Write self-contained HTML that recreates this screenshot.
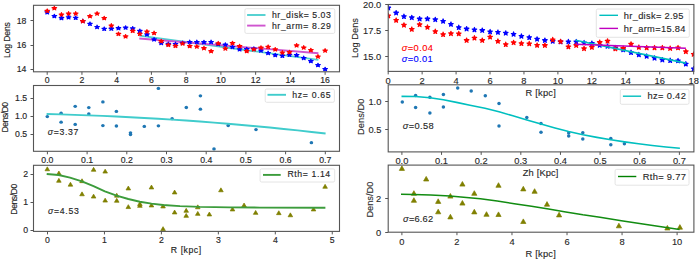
<!DOCTYPE html>
<html><head><meta charset="utf-8"><style>
html,body{margin:0;padding:0;background:#fff;width:700px;height:260px;overflow:hidden}
svg text{font-family:"Liberation Sans", sans-serif}
</style></head><body>
<svg width="700" height="260" viewBox="0 0 700 260" style="position:absolute;left:0;top:0;font-family:'Liberation Sans', sans-serif">
<rect x="0" y="0" width="700" height="260" fill="#ffffff"/>
<g>
<clipPath id="cTL"><rect x="33.5" y="5.3" width="306.0" height="66.5"/></clipPath>
<g clip-path="url(#cTL)">
<polyline points="139.30,35.60 318.40,59.90" fill="none" stroke="#4fd0d0" stroke-width="1.9" stroke-linejoin="round"/>
<polyline points="139.30,38.50 318.40,53.20" fill="none" stroke="#cf55cf" stroke-width="1.9" stroke-linejoin="round"/>
<path d="M47.20,10.42 L46.66,11.78 L44.92,11.78 L46.33,12.62 L45.79,13.98 L47.20,13.14 L48.61,13.98 L48.07,12.62 L49.48,11.78 L47.74,11.78ZM54.33,14.22 L53.79,15.58 L52.04,15.58 L53.45,16.42 L52.92,17.78 L54.33,16.94 L55.74,17.78 L55.20,16.42 L56.61,15.58 L54.86,15.58ZM61.45,16.22 L60.91,17.58 L59.17,17.58 L60.58,18.42 L60.04,19.78 L61.45,18.94 L62.86,19.78 L62.32,18.42 L63.73,17.58 L61.99,17.58ZM68.58,15.42 L68.04,16.78 L66.30,16.78 L67.71,17.62 L67.17,18.98 L68.58,18.14 L69.99,18.98 L69.45,17.62 L70.86,16.78 L69.12,16.78ZM75.70,15.92 L75.17,17.28 L73.42,17.28 L74.83,18.12 L74.29,19.48 L75.70,18.64 L77.11,19.48 L76.58,18.12 L77.99,17.28 L76.24,17.28ZM82.83,19.12 L82.29,20.48 L80.55,20.48 L81.96,21.32 L81.42,22.68 L82.83,21.84 L84.24,22.68 L83.70,21.32 L85.11,20.48 L83.37,20.48ZM89.96,21.92 L89.42,23.28 L87.67,23.28 L89.08,24.12 L88.55,25.48 L89.96,24.64 L91.37,25.48 L90.83,24.12 L92.24,23.28 L90.49,23.28ZM97.08,25.12 L96.54,26.48 L94.80,26.48 L96.21,27.32 L95.67,28.68 L97.08,27.84 L98.49,28.68 L97.95,27.32 L99.36,26.48 L97.62,26.48ZM104.21,26.92 L103.67,28.28 L101.93,28.28 L103.34,29.12 L102.80,30.48 L104.21,29.64 L105.62,30.48 L105.08,29.12 L106.49,28.28 L104.75,28.28ZM111.33,26.82 L110.80,28.18 L109.05,28.18 L110.46,29.02 L109.92,30.38 L111.33,29.54 L112.74,30.38 L112.21,29.02 L113.62,28.18 L111.87,28.18ZM118.46,26.32 L117.92,27.68 L116.18,27.68 L117.59,28.52 L117.05,29.88 L118.46,29.04 L119.87,29.88 L119.33,28.52 L120.74,27.68 L119.00,27.68ZM125.59,25.72 L125.05,27.08 L123.30,27.08 L124.71,27.92 L124.18,29.28 L125.59,28.44 L127.00,29.28 L126.46,27.92 L127.87,27.08 L126.12,27.08ZM132.71,26.52 L132.17,27.88 L130.43,27.88 L131.84,28.72 L131.30,30.08 L132.71,29.24 L134.12,30.08 L133.58,28.72 L134.99,27.88 L133.25,27.88ZM139.84,29.02 L139.30,30.38 L137.56,30.38 L138.97,31.22 L138.43,32.58 L139.84,31.74 L141.25,32.58 L140.71,31.22 L142.12,30.38 L140.38,30.38ZM146.96,32.52 L146.43,33.88 L144.68,33.88 L146.09,34.72 L145.55,36.08 L146.96,35.24 L148.37,36.08 L147.84,34.72 L149.25,33.88 L147.50,33.88ZM154.09,37.52 L153.55,38.88 L151.81,38.88 L153.22,39.72 L152.68,41.08 L154.09,40.24 L155.50,41.08 L154.96,39.72 L156.37,38.88 L154.63,38.88ZM161.22,41.12 L160.68,42.48 L158.93,42.48 L160.34,43.32 L159.81,44.68 L161.22,43.84 L162.63,44.68 L162.09,43.32 L163.50,42.48 L161.75,42.48ZM168.34,42.02 L167.80,43.38 L166.06,43.38 L167.47,44.22 L166.93,45.58 L168.34,44.74 L169.75,45.58 L169.21,44.22 L170.62,43.38 L168.88,43.38ZM175.47,42.12 L174.93,43.48 L173.19,43.48 L174.60,44.32 L174.06,45.68 L175.47,44.84 L176.88,45.68 L176.34,44.32 L177.75,43.48 L176.01,43.48ZM182.59,41.02 L182.06,42.38 L180.31,42.38 L181.72,43.22 L181.18,44.58 L182.59,43.74 L184.00,44.58 L183.47,43.22 L184.88,42.38 L183.13,42.38ZM189.72,40.12 L189.18,41.48 L187.44,41.48 L188.85,42.32 L188.31,43.68 L189.72,42.84 L191.13,43.68 L190.59,42.32 L192.00,41.48 L190.26,41.48ZM196.85,40.12 L196.31,41.48 L194.56,41.48 L195.97,42.32 L195.44,43.68 L196.85,42.84 L198.26,43.68 L197.72,42.32 L199.13,41.48 L197.38,41.48ZM203.97,40.32 L203.43,41.68 L201.69,41.68 L203.10,42.52 L202.56,43.88 L203.97,43.04 L205.38,43.88 L204.84,42.52 L206.25,41.68 L204.51,41.68ZM211.10,40.12 L210.56,41.48 L208.82,41.48 L210.23,42.32 L209.69,43.68 L211.10,42.84 L212.51,43.68 L211.97,42.32 L213.38,41.48 L211.64,41.48ZM218.22,42.22 L217.69,43.58 L215.94,43.58 L217.35,44.42 L216.81,45.78 L218.22,44.94 L219.63,45.78 L219.10,44.42 L220.51,43.58 L218.76,43.58ZM225.35,42.82 L224.81,44.18 L223.07,44.18 L224.48,45.02 L223.94,46.38 L225.35,45.54 L226.76,46.38 L226.22,45.02 L227.63,44.18 L225.89,44.18ZM232.48,45.12 L231.94,46.48 L230.19,46.48 L231.60,47.32 L231.07,48.68 L232.48,47.84 L233.89,48.68 L233.35,47.32 L234.76,46.48 L233.01,46.48ZM239.60,47.42 L239.06,48.78 L237.32,48.78 L238.73,49.62 L238.19,50.98 L239.60,50.14 L241.01,50.98 L240.47,49.62 L241.88,48.78 L240.14,48.78ZM246.73,47.22 L246.19,48.58 L244.45,48.58 L245.86,49.42 L245.32,50.78 L246.73,49.94 L248.14,50.78 L247.60,49.42 L249.01,48.58 L247.27,48.58ZM253.85,46.82 L253.32,48.18 L251.57,48.18 L252.98,49.02 L252.44,50.38 L253.85,49.54 L255.26,50.38 L254.73,49.02 L256.14,48.18 L254.39,48.18ZM260.98,48.62 L260.44,49.98 L258.70,49.98 L260.11,50.82 L259.57,52.18 L260.98,51.34 L262.39,52.18 L261.85,50.82 L263.26,49.98 L261.52,49.98ZM268.11,51.12 L267.57,52.48 L265.82,52.48 L267.23,53.32 L266.70,54.68 L268.11,53.84 L269.52,54.68 L268.98,53.32 L270.39,52.48 L268.64,52.48ZM275.23,53.22 L274.69,54.58 L272.95,54.58 L274.36,55.42 L273.82,56.78 L275.23,55.94 L276.64,56.78 L276.10,55.42 L277.51,54.58 L275.77,54.58ZM282.36,53.92 L281.82,55.28 L280.08,55.28 L281.49,56.12 L280.95,57.48 L282.36,56.64 L283.77,57.48 L283.23,56.12 L284.64,55.28 L282.90,55.28ZM289.48,52.92 L288.95,54.28 L287.20,54.28 L288.61,55.12 L288.07,56.48 L289.48,55.64 L290.89,56.48 L290.36,55.12 L291.77,54.28 L290.02,54.28ZM296.61,53.22 L296.07,54.58 L294.33,54.58 L295.74,55.42 L295.20,56.78 L296.61,55.94 L298.02,56.78 L297.48,55.42 L298.89,54.58 L297.15,54.58ZM303.74,56.12 L303.20,57.48 L301.45,57.48 L302.86,58.32 L302.33,59.68 L303.74,58.84 L305.15,59.68 L304.61,58.32 L306.02,57.48 L304.27,57.48ZM310.86,59.22 L310.32,60.58 L308.58,60.58 L309.99,61.42 L309.45,62.78 L310.86,61.94 L312.27,62.78 L311.73,61.42 L313.14,60.58 L311.40,60.58ZM317.99,63.22 L317.45,64.58 L315.71,64.58 L317.12,65.42 L316.58,66.78 L317.99,65.94 L319.40,66.78 L318.86,65.42 L320.27,64.58 L318.53,64.58ZM325.11,67.22 L324.58,68.58 L322.83,68.58 L324.24,69.42 L323.70,70.78 L325.11,69.94 L326.52,70.78 L325.99,69.42 L327.40,68.58 L325.65,68.58Z" fill="#0000ff" stroke="#0000ff" stroke-width="1.15" stroke-linejoin="round"/>
<path d="M47.20,8.92 L46.66,10.28 L44.92,10.28 L46.33,11.12 L45.79,12.48 L47.20,11.64 L48.61,12.48 L48.07,11.12 L49.48,10.28 L47.74,10.28ZM54.33,6.32 L53.79,7.68 L52.04,7.68 L53.45,8.52 L52.92,9.88 L54.33,9.04 L55.74,9.88 L55.20,8.52 L56.61,7.68 L54.86,7.68ZM61.45,12.62 L60.91,13.98 L59.17,13.98 L60.58,14.82 L60.04,16.18 L61.45,15.34 L62.86,16.18 L62.32,14.82 L63.73,13.98 L61.99,13.98ZM68.58,11.62 L68.04,12.98 L66.30,12.98 L67.71,13.82 L67.17,15.18 L68.58,14.34 L69.99,15.18 L69.45,13.82 L70.86,12.98 L69.12,12.98ZM75.70,11.62 L75.17,12.98 L73.42,12.98 L74.83,13.82 L74.29,15.18 L75.70,14.34 L77.11,15.18 L76.58,13.82 L77.99,12.98 L76.24,12.98ZM82.83,19.32 L82.29,20.68 L80.55,20.68 L81.96,21.52 L81.42,22.88 L82.83,22.04 L84.24,22.88 L83.70,21.52 L85.11,20.68 L83.37,20.68ZM89.96,14.32 L89.42,15.68 L87.67,15.68 L89.08,16.52 L88.55,17.88 L89.96,17.04 L91.37,17.88 L90.83,16.52 L92.24,15.68 L90.49,15.68ZM97.08,11.62 L96.54,12.98 L94.80,12.98 L96.21,13.82 L95.67,15.18 L97.08,14.34 L98.49,15.18 L97.95,13.82 L99.36,12.98 L97.62,12.98ZM104.21,16.22 L103.67,17.58 L101.93,17.58 L103.34,18.42 L102.80,19.78 L104.21,18.94 L105.62,19.78 L105.08,18.42 L106.49,17.58 L104.75,17.58ZM111.33,23.62 L110.80,24.98 L109.05,24.98 L110.46,25.82 L109.92,27.18 L111.33,26.34 L112.74,27.18 L112.21,25.82 L113.62,24.98 L111.87,24.98ZM118.46,32.02 L117.92,33.38 L116.18,33.38 L117.59,34.22 L117.05,35.58 L118.46,34.74 L119.87,35.58 L119.33,34.22 L120.74,33.38 L119.00,33.38ZM125.59,34.52 L125.05,35.88 L123.30,35.88 L124.71,36.72 L124.18,38.08 L125.59,37.24 L127.00,38.08 L126.46,36.72 L127.87,35.88 L126.12,35.88ZM132.71,29.02 L132.17,30.38 L130.43,30.38 L131.84,31.22 L131.30,32.58 L132.71,31.74 L134.12,32.58 L133.58,31.22 L134.99,30.38 L133.25,30.38ZM139.84,31.92 L139.30,33.28 L137.56,33.28 L138.97,34.12 L138.43,35.48 L139.84,34.64 L141.25,35.48 L140.71,34.12 L142.12,33.28 L140.38,33.28ZM146.96,29.62 L146.43,30.98 L144.68,30.98 L146.09,31.82 L145.55,33.18 L146.96,32.34 L148.37,33.18 L147.84,31.82 L149.25,30.98 L147.50,30.98ZM154.09,31.12 L153.55,32.48 L151.81,32.48 L153.22,33.32 L152.68,34.68 L154.09,33.84 L155.50,34.68 L154.96,33.32 L156.37,32.48 L154.63,32.48ZM161.22,39.32 L160.68,40.68 L158.93,40.68 L160.34,41.52 L159.81,42.88 L161.22,42.04 L162.63,42.88 L162.09,41.52 L163.50,40.68 L161.75,40.68ZM168.34,43.02 L167.80,44.38 L166.06,44.38 L167.47,45.22 L166.93,46.58 L168.34,45.74 L169.75,46.58 L169.21,45.22 L170.62,44.38 L168.88,44.38ZM175.47,44.02 L174.93,45.38 L173.19,45.38 L174.60,46.22 L174.06,47.58 L175.47,46.74 L176.88,47.58 L176.34,46.22 L177.75,45.38 L176.01,45.38ZM182.59,41.62 L182.06,42.98 L180.31,42.98 L181.72,43.82 L181.18,45.18 L182.59,44.34 L184.00,45.18 L183.47,43.82 L184.88,42.98 L183.13,42.98ZM189.72,44.22 L189.18,45.58 L187.44,45.58 L188.85,46.42 L188.31,47.78 L189.72,46.94 L191.13,47.78 L190.59,46.42 L192.00,45.58 L190.26,45.58ZM196.85,44.62 L196.31,45.98 L194.56,45.98 L195.97,46.82 L195.44,48.18 L196.85,47.34 L198.26,48.18 L197.72,46.82 L199.13,45.98 L197.38,45.98ZM203.97,46.32 L203.43,47.68 L201.69,47.68 L203.10,48.52 L202.56,49.88 L203.97,49.04 L205.38,49.88 L204.84,48.52 L206.25,47.68 L204.51,47.68ZM211.10,49.32 L210.56,50.68 L208.82,50.68 L210.23,51.52 L209.69,52.88 L211.10,52.04 L212.51,52.88 L211.97,51.52 L213.38,50.68 L211.64,50.68ZM218.22,41.42 L217.69,42.78 L215.94,42.78 L217.35,43.62 L216.81,44.98 L218.22,44.14 L219.63,44.98 L219.10,43.62 L220.51,42.78 L218.76,42.78ZM225.35,46.62 L224.81,47.98 L223.07,47.98 L224.48,48.82 L223.94,50.18 L225.35,49.34 L226.76,50.18 L226.22,48.82 L227.63,47.98 L225.89,47.98ZM232.48,41.22 L231.94,42.58 L230.19,42.58 L231.60,43.42 L231.07,44.78 L232.48,43.94 L233.89,44.78 L233.35,43.42 L234.76,42.58 L233.01,42.58ZM239.60,44.32 L239.06,45.68 L237.32,45.68 L238.73,46.52 L238.19,47.88 L239.60,47.04 L241.01,47.88 L240.47,46.52 L241.88,45.68 L240.14,45.68ZM246.73,49.22 L246.19,50.58 L244.45,50.58 L245.86,51.42 L245.32,52.78 L246.73,51.94 L248.14,52.78 L247.60,51.42 L249.01,50.58 L247.27,50.58ZM253.85,47.52 L253.32,48.88 L251.57,48.88 L252.98,49.72 L252.44,51.08 L253.85,50.24 L255.26,51.08 L254.73,49.72 L256.14,48.88 L254.39,48.88ZM260.98,45.82 L260.44,47.18 L258.70,47.18 L260.11,48.02 L259.57,49.38 L260.98,48.54 L262.39,49.38 L261.85,48.02 L263.26,47.18 L261.52,47.18ZM268.11,44.92 L267.57,46.28 L265.82,46.28 L267.23,47.12 L266.70,48.48 L268.11,47.64 L269.52,48.48 L268.98,47.12 L270.39,46.28 L268.64,46.28ZM275.23,47.52 L274.69,48.88 L272.95,48.88 L274.36,49.72 L273.82,51.08 L275.23,50.24 L276.64,51.08 L276.10,49.72 L277.51,48.88 L275.77,48.88ZM282.36,50.62 L281.82,51.98 L280.08,51.98 L281.49,52.82 L280.95,54.18 L282.36,53.34 L283.77,54.18 L283.23,52.82 L284.64,51.98 L282.90,51.98ZM289.48,50.32 L288.95,51.68 L287.20,51.68 L288.61,52.52 L288.07,53.88 L289.48,53.04 L290.89,53.88 L290.36,52.52 L291.77,51.68 L290.02,51.68ZM296.61,43.52 L296.07,44.88 L294.33,44.88 L295.74,45.72 L295.20,47.08 L296.61,46.24 L298.02,47.08 L297.48,45.72 L298.89,44.88 L297.15,44.88ZM303.74,45.62 L303.20,46.98 L301.45,46.98 L302.86,47.82 L302.33,49.18 L303.74,48.34 L305.15,49.18 L304.61,47.82 L306.02,46.98 L304.27,46.98ZM310.86,48.22 L310.32,49.58 L308.58,49.58 L309.99,50.42 L309.45,51.78 L310.86,50.94 L312.27,51.78 L311.73,50.42 L313.14,49.58 L311.40,49.58ZM317.99,54.62 L317.45,55.98 L315.71,55.98 L317.12,56.82 L316.58,58.18 L317.99,57.34 L319.40,58.18 L318.86,56.82 L320.27,55.98 L318.53,55.98ZM325.11,48.62 L324.58,49.98 L322.83,49.98 L324.24,50.82 L323.70,52.18 L325.11,51.34 L326.52,52.18 L325.99,50.82 L327.40,49.98 L325.65,49.98Z" fill="#ff0000" stroke="#ff0000" stroke-width="1.15" stroke-linejoin="round"/>
</g>
<rect x="33.50" y="5.30" width="306.00" height="66.50" fill="none" stroke="#555555" stroke-width="1.1"/>
<path d="M47.20,71.80v3.0M81.94,71.80v3.0M116.68,71.80v3.0M151.42,71.80v3.0M186.16,71.80v3.0M220.90,71.80v3.0M255.64,71.80v3.0M290.38,71.80v3.0M325.12,71.80v3.0" stroke="#555555" stroke-width="1.0"/>
<path d="M33.50,69.50h-3.0M33.50,45.50h-3.0M33.50,20.50h-3.0" stroke="#555555" stroke-width="1.0"/>
<text x="47.20" y="82.60" font-size="8.7" fill="#262626" stroke="#262626" stroke-width="0.15" text-anchor="middle" >0</text>
<text x="81.94" y="82.60" font-size="8.7" fill="#262626" stroke="#262626" stroke-width="0.15" text-anchor="middle" >2</text>
<text x="116.68" y="82.60" font-size="8.7" fill="#262626" stroke="#262626" stroke-width="0.15" text-anchor="middle" >4</text>
<text x="151.42" y="82.60" font-size="8.7" fill="#262626" stroke="#262626" stroke-width="0.15" text-anchor="middle" >6</text>
<text x="186.16" y="82.60" font-size="8.7" fill="#262626" stroke="#262626" stroke-width="0.15" text-anchor="middle" >8</text>
<text x="220.90" y="82.60" font-size="8.7" fill="#262626" stroke="#262626" stroke-width="0.15" text-anchor="middle" >10</text>
<text x="255.64" y="82.60" font-size="8.7" fill="#262626" stroke="#262626" stroke-width="0.15" text-anchor="middle" >12</text>
<text x="290.38" y="82.60" font-size="8.7" fill="#262626" stroke="#262626" stroke-width="0.15" text-anchor="middle" >14</text>
<text x="325.12" y="82.60" font-size="8.7" fill="#262626" stroke="#262626" stroke-width="0.15" text-anchor="middle" >16</text>
<text x="26.30" y="72.20" font-size="8.7" fill="#262626" stroke="#262626" stroke-width="0.15" text-anchor="end" >14</text>
<text x="26.30" y="47.94" font-size="8.7" fill="#262626" stroke="#262626" stroke-width="0.15" text-anchor="end" >16</text>
<text x="26.30" y="23.68" font-size="8.7" fill="#262626" stroke="#262626" stroke-width="0.15" text-anchor="end" >18</text>
<text x="10.40" y="40.00" font-size="8.7" fill="#262626" stroke="#262626" stroke-width="0.15" text-anchor="middle" textLength="35.80" lengthAdjust="spacing" transform="rotate(-90 10.40 40.00)" >Log Dens</text>
<rect x="244.90" y="8.70" width="89.90" height="24.70" rx="1.5" fill="#ffffff" fill-opacity="0.8" stroke="#dddddd" stroke-width="0.8"/>
<path d="M247.1,15.0H265.5" stroke="#4fd0d0" stroke-width="1.9"/>
<path d="M247.1,25.6H265.5" stroke="#cf55cf" stroke-width="1.9"/>
<text x="271.90" y="18.10" font-size="8.7" fill="#262626" stroke="#262626" stroke-width="0.15" text-anchor="start" textLength="58.90" lengthAdjust="spacing" >hr_disk= 5.03</text>
<text x="271.90" y="28.70" font-size="8.7" fill="#262626" stroke="#262626" stroke-width="0.15" text-anchor="start" textLength="58.90" lengthAdjust="spacing" >hr_arm= 8.29</text>
</g>
<clipPath id="cML"><rect x="33.5" y="85.5" width="306.0" height="65.80000000000001"/></clipPath>
<g clip-path="url(#cML)">
<ellipse cx="47.30" cy="116.60" rx="1.8" ry="1.65" fill="#1f77b4"/>
<ellipse cx="61.10" cy="113.20" rx="1.8" ry="1.65" fill="#1f77b4"/>
<ellipse cx="61.10" cy="122.20" rx="1.8" ry="1.65" fill="#1f77b4"/>
<ellipse cx="75.20" cy="106.30" rx="1.8" ry="1.65" fill="#1f77b4"/>
<ellipse cx="75.20" cy="124.40" rx="1.8" ry="1.65" fill="#1f77b4"/>
<ellipse cx="88.80" cy="107.60" rx="1.8" ry="1.65" fill="#1f77b4"/>
<ellipse cx="88.80" cy="114.00" rx="1.8" ry="1.65" fill="#1f77b4"/>
<ellipse cx="102.90" cy="101.90" rx="1.8" ry="1.65" fill="#1f77b4"/>
<ellipse cx="102.90" cy="125.60" rx="1.8" ry="1.65" fill="#1f77b4"/>
<ellipse cx="116.40" cy="111.40" rx="1.8" ry="1.65" fill="#1f77b4"/>
<ellipse cx="116.40" cy="126.00" rx="1.8" ry="1.65" fill="#1f77b4"/>
<ellipse cx="130.50" cy="132.80" rx="1.8" ry="1.65" fill="#1f77b4"/>
<ellipse cx="130.50" cy="134.60" rx="1.8" ry="1.65" fill="#1f77b4"/>
<ellipse cx="144.30" cy="126.40" rx="1.8" ry="1.65" fill="#1f77b4"/>
<ellipse cx="158.40" cy="88.40" rx="1.8" ry="1.65" fill="#1f77b4"/>
<ellipse cx="158.40" cy="125.80" rx="1.8" ry="1.65" fill="#1f77b4"/>
<ellipse cx="172.10" cy="118.70" rx="1.8" ry="1.65" fill="#1f77b4"/>
<ellipse cx="186.30" cy="107.50" rx="1.8" ry="1.65" fill="#1f77b4"/>
<ellipse cx="200.40" cy="95.80" rx="1.8" ry="1.65" fill="#1f77b4"/>
<ellipse cx="200.40" cy="109.20" rx="1.8" ry="1.65" fill="#1f77b4"/>
<ellipse cx="214.00" cy="148.90" rx="1.8" ry="1.65" fill="#1f77b4"/>
<ellipse cx="228.20" cy="125.50" rx="1.8" ry="1.65" fill="#1f77b4"/>
<ellipse cx="256.00" cy="129.60" rx="1.8" ry="1.65" fill="#1f77b4"/>
<ellipse cx="311.40" cy="142.70" rx="1.8" ry="1.65" fill="#1f77b4"/>
<polyline points="46.60,114.05 60.55,114.41 74.50,114.84 88.45,115.33 102.40,115.88 116.35,116.50 130.30,117.18 144.25,117.93 158.20,118.74 172.15,119.62 186.10,120.56 200.05,121.57 214.00,122.64 227.95,123.78 241.90,124.98 255.85,126.24 269.80,127.57 283.75,128.97 297.70,130.43 311.65,131.95 325.60,133.54" fill="none" stroke="#40cccc" stroke-width="1.9" stroke-linejoin="round"/>
</g>
<rect x="33.50" y="85.50" width="306.00" height="65.80" fill="none" stroke="#555555" stroke-width="1.1"/>
<path d="M47.40,151.30v3.0M87.10,151.30v3.0M126.80,151.30v3.0M166.50,151.30v3.0M206.20,151.30v3.0M245.90,151.30v3.0M285.60,151.30v3.0M325.30,151.30v3.0" stroke="#555555" stroke-width="1.0"/>
<path d="M33.50,134.50h-3.0M33.50,116.50h-3.0M33.50,98.50h-3.0" stroke="#555555" stroke-width="1.0"/>
<text x="47.40" y="163.00" font-size="8.7" fill="#262626" stroke="#262626" stroke-width="0.15" text-anchor="middle" >0.0</text>
<text x="87.10" y="163.00" font-size="8.7" fill="#262626" stroke="#262626" stroke-width="0.15" text-anchor="middle" >0.1</text>
<text x="126.80" y="163.00" font-size="8.7" fill="#262626" stroke="#262626" stroke-width="0.15" text-anchor="middle" >0.2</text>
<text x="166.50" y="163.00" font-size="8.7" fill="#262626" stroke="#262626" stroke-width="0.15" text-anchor="middle" >0.3</text>
<text x="206.20" y="163.00" font-size="8.7" fill="#262626" stroke="#262626" stroke-width="0.15" text-anchor="middle" >0.4</text>
<text x="245.90" y="163.00" font-size="8.7" fill="#262626" stroke="#262626" stroke-width="0.15" text-anchor="middle" >0.5</text>
<text x="285.60" y="163.00" font-size="8.7" fill="#262626" stroke="#262626" stroke-width="0.15" text-anchor="middle" >0.6</text>
<text x="325.30" y="163.00" font-size="8.7" fill="#262626" stroke="#262626" stroke-width="0.15" text-anchor="middle" >0.7</text>
<text x="27.20" y="137.15" font-size="8.7" fill="#262626" stroke="#262626" stroke-width="0.15" text-anchor="end" >0.5</text>
<text x="27.20" y="119.10" font-size="8.7" fill="#262626" stroke="#262626" stroke-width="0.15" text-anchor="end" >1.0</text>
<text x="27.20" y="101.05" font-size="8.7" fill="#262626" stroke="#262626" stroke-width="0.15" text-anchor="end" >1.5</text>
<text x="7.90" y="117.10" font-size="8.7" fill="#262626" stroke="#262626" stroke-width="0.15" text-anchor="middle" textLength="30.60" lengthAdjust="spacing" transform="rotate(-90 7.90 117.10)" >Dens/D0</text>
<rect x="265.20" y="89.00" width="69.20" height="13.30" rx="1.5" fill="#ffffff" fill-opacity="0.8" stroke="#dddddd" stroke-width="0.8"/>
<path d="M267.5,94.8H286" stroke="#40cccc" stroke-width="1.9"/>
<text x="292.30" y="97.70" font-size="8.7" fill="#262626" stroke="#262626" stroke-width="0.15" text-anchor="start" textLength="38.30" lengthAdjust="spacing" >hz= 0.65</text>
<text x="47.80" y="134.80" font-size="8.7" fill="#262626" stroke="#262626" stroke-width="0.15" text-anchor="start" textLength="30.60" lengthAdjust="spacing" ><tspan font-style="italic">σ</tspan>=3.37</text>
<clipPath id="cBL"><rect x="33.5" y="165.3" width="306.0" height="66.1"/></clipPath>
<g clip-path="url(#cBL)">
<path d="M47.30,166.85 L45.00,170.75 L49.60,170.75ZM58.88,171.05 L56.58,174.95 L61.17,174.95ZM58.88,178.35 L56.58,182.25 L61.17,182.25ZM70.45,182.25 L68.15,186.15 L72.75,186.15ZM82.02,178.75 L79.72,182.65 L84.32,182.65ZM82.02,191.85 L79.72,195.75 L84.32,195.75ZM93.60,167.35 L91.30,171.25 L95.90,171.25ZM93.60,194.15 L91.30,198.05 L95.90,198.05ZM105.17,169.15 L102.88,173.05 L107.47,173.05ZM105.17,198.15 L102.88,202.05 L107.47,202.05ZM116.75,193.25 L114.45,197.15 L119.05,197.15ZM116.75,198.35 L114.45,202.25 L119.05,202.25ZM128.32,186.05 L126.02,189.95 L130.62,189.95ZM128.32,204.65 L126.02,208.55 L130.62,208.55ZM139.90,201.65 L137.60,205.55 L142.20,205.55ZM139.90,203.45 L137.60,207.35 L142.20,207.35ZM151.47,185.05 L149.17,188.95 L153.78,188.95ZM151.47,203.05 L149.17,206.95 L153.78,206.95ZM163.05,204.05 L160.75,207.95 L165.35,207.95ZM163.05,226.65 L160.75,230.55 L165.35,230.55ZM174.62,190.05 L172.32,193.95 L176.93,193.95ZM174.62,210.05 L172.32,213.95 L176.93,213.95ZM186.20,208.35 L183.90,212.25 L188.50,212.25ZM186.20,213.45 L183.90,217.35 L188.50,217.35ZM197.77,204.85 L195.47,208.75 L200.07,208.75ZM197.77,211.45 L195.47,215.35 L200.07,215.35ZM209.35,212.05 L207.05,215.95 L211.65,215.95ZM220.93,187.85 L218.62,191.75 L223.23,191.75ZM232.50,207.05 L230.20,210.95 L234.80,210.95ZM244.07,203.05 L241.77,206.95 L246.38,206.95ZM255.65,210.45 L253.35,214.35 L257.95,214.35ZM278.80,210.75 L276.50,214.65 L281.10,214.65ZM290.38,212.85 L288.07,216.75 L292.68,216.75ZM313.52,207.05 L311.22,210.95 L315.82,210.95ZM325.10,184.35 L322.80,188.25 L327.40,188.25Z" fill="#808000" stroke="#808000" stroke-width="0.7" stroke-linejoin="round"/>
<polyline points="46.70,174.00 58.60,175.00 70.00,177.60 81.90,181.40 93.50,186.20 104.90,191.30 116.60,195.60 128.30,199.00 139.90,201.70 151.50,203.60 163.00,205.00 180.00,206.10 200.00,206.90 230.00,207.40 260.00,207.60 325.40,207.80" fill="none" stroke="#3c9c3c" stroke-width="1.9" stroke-linejoin="round"/>
</g>
<rect x="33.50" y="165.30" width="306.00" height="66.10" fill="none" stroke="#555555" stroke-width="1.1"/>
<path d="M47.50,231.40v3.0M104.45,231.40v3.0M161.40,231.40v3.0M218.35,231.40v3.0M275.30,231.40v3.0M332.25,231.40v3.0" stroke="#555555" stroke-width="1.0"/>
<path d="M33.50,230.50h-3.0M33.50,202.50h-3.0M33.50,174.50h-3.0" stroke="#555555" stroke-width="1.0"/>
<text x="47.50" y="243.00" font-size="8.7" fill="#262626" stroke="#262626" stroke-width="0.15" text-anchor="middle" >0</text>
<text x="104.45" y="243.00" font-size="8.7" fill="#262626" stroke="#262626" stroke-width="0.15" text-anchor="middle" >1</text>
<text x="161.40" y="243.00" font-size="8.7" fill="#262626" stroke="#262626" stroke-width="0.15" text-anchor="middle" >2</text>
<text x="218.35" y="243.00" font-size="8.7" fill="#262626" stroke="#262626" stroke-width="0.15" text-anchor="middle" >3</text>
<text x="275.30" y="243.00" font-size="8.7" fill="#262626" stroke="#262626" stroke-width="0.15" text-anchor="middle" >4</text>
<text x="332.25" y="243.00" font-size="8.7" fill="#262626" stroke="#262626" stroke-width="0.15" text-anchor="middle" >5</text>
<text x="28.00" y="233.10" font-size="8.7" fill="#262626" stroke="#262626" stroke-width="0.15" text-anchor="end" >0</text>
<text x="28.00" y="205.15" font-size="8.7" fill="#262626" stroke="#262626" stroke-width="0.15" text-anchor="end" >1</text>
<text x="28.00" y="177.20" font-size="8.7" fill="#262626" stroke="#262626" stroke-width="0.15" text-anchor="end" >2</text>
<text x="17.00" y="199.20" font-size="8.7" fill="#262626" stroke="#262626" stroke-width="0.15" text-anchor="middle" textLength="30.90" lengthAdjust="spacing" transform="rotate(-90 17.00 199.20)" >Dens/D0</text>
<text x="186.00" y="252.70" font-size="8.7" fill="#262626" stroke="#262626" stroke-width="0.15" text-anchor="middle" textLength="30.30" lengthAdjust="spacing" >R [kpc]</text>
<rect x="260.10" y="168.90" width="74.60" height="13.10" rx="1.5" fill="#ffffff" fill-opacity="0.8" stroke="#dddddd" stroke-width="0.8"/>
<path d="M263,174.9H280.7" stroke="#3c9c3c" stroke-width="1.9"/>
<text x="287.40" y="177.10" font-size="8.7" fill="#262626" stroke="#262626" stroke-width="0.15" text-anchor="start" textLength="42.80" lengthAdjust="spacing" >Rth= 1.14</text>
<text x="47.90" y="213.70" font-size="8.7" fill="#262626" stroke="#262626" stroke-width="0.15" text-anchor="start" textLength="31.00" lengthAdjust="spacing" ><tspan font-style="italic">σ</tspan>=4.53</text>
<clipPath id="cTR"><rect x="388.2" y="4.5" width="305.7" height="66.9"/></clipPath>
<g clip-path="url(#cTR)">
<path d="M388.30,5.53 L387.76,7.19 L386.02,7.19 L387.43,8.21 L386.89,9.87 L388.30,8.84 L389.71,9.87 L389.17,8.21 L390.58,7.19 L388.84,7.19ZM396.13,10.53 L395.59,12.19 L393.85,12.19 L395.26,13.21 L394.72,14.87 L396.13,13.84 L397.54,14.87 L397.00,13.21 L398.41,12.19 L396.67,12.19ZM403.96,14.13 L403.42,15.79 L401.68,15.79 L403.09,16.81 L402.55,18.47 L403.96,17.44 L405.37,18.47 L404.83,16.81 L406.24,15.79 L404.50,15.79ZM411.79,15.23 L411.25,16.89 L409.51,16.89 L410.92,17.91 L410.38,19.57 L411.79,18.54 L413.20,19.57 L412.66,17.91 L414.07,16.89 L412.33,16.89ZM419.62,16.53 L419.08,18.19 L417.34,18.19 L418.75,19.21 L418.21,20.87 L419.62,19.84 L421.03,20.87 L420.49,19.21 L421.90,18.19 L420.16,18.19ZM427.45,16.53 L426.91,18.19 L425.17,18.19 L426.58,19.21 L426.04,20.87 L427.45,19.84 L428.86,20.87 L428.32,19.21 L429.73,18.19 L427.99,18.19ZM435.28,17.23 L434.74,18.89 L433.00,18.89 L434.41,19.91 L433.87,21.57 L435.28,20.54 L436.69,21.57 L436.15,19.91 L437.56,18.89 L435.82,18.89ZM443.11,18.83 L442.57,20.49 L440.83,20.49 L442.24,21.51 L441.70,23.17 L443.11,22.14 L444.52,23.17 L443.98,21.51 L445.39,20.49 L443.65,20.49ZM450.94,21.93 L450.40,23.59 L448.66,23.59 L450.07,24.61 L449.53,26.27 L450.94,25.24 L452.35,26.27 L451.81,24.61 L453.22,23.59 L451.48,23.59ZM458.77,25.13 L458.23,26.79 L456.49,26.79 L457.90,27.81 L457.36,29.47 L458.77,28.44 L460.18,29.47 L459.64,27.81 L461.05,26.79 L459.31,26.79ZM466.60,26.53 L466.06,28.19 L464.32,28.19 L465.73,29.21 L465.19,30.87 L466.60,29.84 L468.01,30.87 L467.47,29.21 L468.88,28.19 L467.14,28.19ZM474.43,27.43 L473.89,29.09 L472.15,29.09 L473.56,30.11 L473.02,31.77 L474.43,30.74 L475.84,31.77 L475.30,30.11 L476.71,29.09 L474.97,29.09ZM482.26,28.03 L481.72,29.69 L479.98,29.69 L481.39,30.71 L480.85,32.37 L482.26,31.34 L483.67,32.37 L483.13,30.71 L484.54,29.69 L482.80,29.69ZM490.09,29.43 L489.55,31.09 L487.81,31.09 L489.22,32.11 L488.68,33.77 L490.09,32.74 L491.50,33.77 L490.96,32.11 L492.37,31.09 L490.63,31.09ZM497.92,29.93 L497.38,31.59 L495.64,31.59 L497.05,32.61 L496.51,34.27 L497.92,33.24 L499.33,34.27 L498.79,32.61 L500.20,31.59 L498.46,31.59ZM505.75,30.73 L505.21,32.39 L503.47,32.39 L504.88,33.41 L504.34,35.07 L505.75,34.04 L507.16,35.07 L506.62,33.41 L508.03,32.39 L506.29,32.39ZM513.58,31.83 L513.04,33.49 L511.30,33.49 L512.71,34.51 L512.17,36.17 L513.58,35.14 L514.99,36.17 L514.45,34.51 L515.86,33.49 L514.12,33.49ZM521.41,33.83 L520.87,35.49 L519.13,35.49 L520.54,36.51 L520.00,38.17 L521.41,37.14 L522.82,38.17 L522.28,36.51 L523.69,35.49 L521.95,35.49ZM529.24,35.13 L528.70,36.79 L526.96,36.79 L528.37,37.81 L527.83,39.47 L529.24,38.44 L530.65,39.47 L530.11,37.81 L531.52,36.79 L529.78,36.79ZM537.07,36.73 L536.53,38.39 L534.79,38.39 L536.20,39.41 L535.66,41.07 L537.07,40.04 L538.48,41.07 L537.94,39.41 L539.35,38.39 L537.61,38.39ZM544.90,38.03 L544.36,39.69 L542.62,39.69 L544.03,40.71 L543.49,42.37 L544.90,41.34 L546.31,42.37 L545.77,40.71 L547.18,39.69 L545.44,39.69ZM552.73,38.83 L552.19,40.49 L550.45,40.49 L551.86,41.51 L551.32,43.17 L552.73,42.14 L554.14,43.17 L553.60,41.51 L555.01,40.49 L553.27,40.49ZM560.56,39.43 L560.02,41.09 L558.28,41.09 L559.69,42.11 L559.15,43.77 L560.56,42.74 L561.97,43.77 L561.43,42.11 L562.84,41.09 L561.10,41.09ZM568.39,39.33 L567.85,40.99 L566.11,40.99 L567.52,42.01 L566.98,43.67 L568.39,42.64 L569.80,43.67 L569.26,42.01 L570.67,40.99 L568.93,40.99ZM576.22,39.43 L575.68,41.09 L573.94,41.09 L575.35,42.11 L574.81,43.77 L576.22,42.74 L577.63,43.77 L577.09,42.11 L578.50,41.09 L576.76,41.09ZM584.05,40.43 L583.51,42.09 L581.77,42.09 L583.18,43.11 L582.64,44.77 L584.05,43.74 L585.46,44.77 L584.92,43.11 L586.33,42.09 L584.59,42.09ZM591.88,41.03 L591.34,42.69 L589.60,42.69 L591.01,43.71 L590.47,45.37 L591.88,44.34 L593.29,45.37 L592.75,43.71 L594.16,42.69 L592.42,42.69ZM599.71,42.83 L599.17,44.49 L597.43,44.49 L598.84,45.51 L598.30,47.17 L599.71,46.14 L601.12,47.17 L600.58,45.51 L601.99,44.49 L600.25,44.49ZM607.54,43.83 L607.00,45.49 L605.26,45.49 L606.67,46.51 L606.13,48.17 L607.54,47.14 L608.95,48.17 L608.41,46.51 L609.82,45.49 L608.08,45.49ZM615.37,45.43 L614.83,47.09 L613.09,47.09 L614.50,48.11 L613.96,49.77 L615.37,48.74 L616.78,49.77 L616.24,48.11 L617.65,47.09 L615.91,47.09ZM623.20,47.33 L622.66,48.99 L620.92,48.99 L622.33,50.01 L621.79,51.67 L623.20,50.64 L624.61,51.67 L624.07,50.01 L625.48,48.99 L623.74,48.99ZM631.03,50.13 L630.49,51.79 L628.75,51.79 L630.16,52.81 L629.62,54.47 L631.03,53.44 L632.44,54.47 L631.90,52.81 L633.31,51.79 L631.57,51.79ZM638.86,52.33 L638.32,53.99 L636.58,53.99 L637.99,55.01 L637.45,56.67 L638.86,55.64 L640.27,56.67 L639.73,55.01 L641.14,53.99 L639.40,53.99ZM646.69,53.83 L646.15,55.49 L644.41,55.49 L645.82,56.51 L645.28,58.17 L646.69,57.14 L648.10,58.17 L647.56,56.51 L648.97,55.49 L647.23,55.49ZM654.52,55.73 L653.98,57.39 L652.24,57.39 L653.65,58.41 L653.11,60.07 L654.52,59.04 L655.93,60.07 L655.39,58.41 L656.80,57.39 L655.06,57.39ZM662.35,57.53 L661.81,59.19 L660.07,59.19 L661.48,60.21 L660.94,61.87 L662.35,60.84 L663.76,61.87 L663.22,60.21 L664.63,59.19 L662.89,59.19ZM670.18,58.13 L669.64,59.79 L667.90,59.79 L669.31,60.81 L668.77,62.47 L670.18,61.44 L671.59,62.47 L671.05,60.81 L672.46,59.79 L670.72,59.79ZM678.01,58.43 L677.47,60.09 L675.73,60.09 L677.14,61.11 L676.60,62.77 L678.01,61.74 L679.42,62.77 L678.88,61.11 L680.29,60.09 L678.55,60.09ZM685.84,61.63 L685.30,63.29 L683.56,63.29 L684.97,64.31 L684.43,65.97 L685.84,64.94 L687.25,65.97 L686.71,64.31 L688.12,63.29 L686.38,63.29ZM693.67,66.43 L693.13,68.09 L691.39,68.09 L692.80,69.11 L692.26,70.77 L693.67,69.74 L695.08,70.77 L694.54,69.11 L695.95,68.09 L694.21,68.09Z" fill="#0000ff" stroke="#0000ff" stroke-width="1.15" stroke-linejoin="round"/>
<path d="M388.30,13.43 L387.76,15.09 L386.02,15.09 L387.43,16.11 L386.89,17.77 L388.30,16.74 L389.71,17.77 L389.17,16.11 L390.58,15.09 L388.84,15.09ZM396.13,17.93 L395.59,19.59 L393.85,19.59 L395.26,20.61 L394.72,22.27 L396.13,21.24 L397.54,22.27 L397.00,20.61 L398.41,19.59 L396.67,19.59ZM403.96,22.73 L403.42,24.39 L401.68,24.39 L403.09,25.41 L402.55,27.07 L403.96,26.04 L405.37,27.07 L404.83,25.41 L406.24,24.39 L404.50,24.39ZM411.79,26.93 L411.25,28.59 L409.51,28.59 L410.92,29.61 L410.38,31.27 L411.79,30.24 L413.20,31.27 L412.66,29.61 L414.07,28.59 L412.33,28.59ZM419.62,22.23 L419.08,23.89 L417.34,23.89 L418.75,24.91 L418.21,26.57 L419.62,25.54 L421.03,26.57 L420.49,24.91 L421.90,23.89 L420.16,23.89ZM427.45,24.83 L426.91,26.49 L425.17,26.49 L426.58,27.51 L426.04,29.17 L427.45,28.14 L428.86,29.17 L428.32,27.51 L429.73,26.49 L427.99,26.49ZM435.28,29.13 L434.74,30.79 L433.00,30.79 L434.41,31.81 L433.87,33.47 L435.28,32.44 L436.69,33.47 L436.15,31.81 L437.56,30.79 L435.82,30.79ZM443.11,32.13 L442.57,33.79 L440.83,33.79 L442.24,34.81 L441.70,36.47 L443.11,35.44 L444.52,36.47 L443.98,34.81 L445.39,33.79 L443.65,33.79ZM450.94,31.23 L450.40,32.89 L448.66,32.89 L450.07,33.91 L449.53,35.57 L450.94,34.54 L452.35,35.57 L451.81,33.91 L453.22,32.89 L451.48,32.89ZM458.77,31.33 L458.23,32.99 L456.49,32.99 L457.90,34.01 L457.36,35.67 L458.77,34.64 L460.18,35.67 L459.64,34.01 L461.05,32.99 L459.31,32.99ZM466.60,38.03 L466.06,39.69 L464.32,39.69 L465.73,40.71 L465.19,42.37 L466.60,41.34 L468.01,42.37 L467.47,40.71 L468.88,39.69 L467.14,39.69ZM474.43,35.63 L473.89,37.29 L472.15,37.29 L473.56,38.31 L473.02,39.97 L474.43,38.94 L475.84,39.97 L475.30,38.31 L476.71,37.29 L474.97,37.29ZM482.26,38.03 L481.72,39.69 L479.98,39.69 L481.39,40.71 L480.85,42.37 L482.26,41.34 L483.67,42.37 L483.13,40.71 L484.54,39.69 L482.80,39.69ZM490.09,34.63 L489.55,36.29 L487.81,36.29 L489.22,37.31 L488.68,38.97 L490.09,37.94 L491.50,38.97 L490.96,37.31 L492.37,36.29 L490.63,36.29ZM497.92,38.83 L497.38,40.49 L495.64,40.49 L497.05,41.51 L496.51,43.17 L497.92,42.14 L499.33,43.17 L498.79,41.51 L500.20,40.49 L498.46,40.49ZM505.75,42.13 L505.21,43.79 L503.47,43.79 L504.88,44.81 L504.34,46.47 L505.75,45.44 L507.16,46.47 L506.62,44.81 L508.03,43.79 L506.29,43.79ZM513.58,40.23 L513.04,41.89 L511.30,41.89 L512.71,42.91 L512.17,44.57 L513.58,43.54 L514.99,44.57 L514.45,42.91 L515.86,41.89 L514.12,41.89ZM521.41,41.13 L520.87,42.79 L519.13,42.79 L520.54,43.81 L520.00,45.47 L521.41,44.44 L522.82,45.47 L522.28,43.81 L523.69,42.79 L521.95,42.79ZM529.24,41.33 L528.70,42.99 L526.96,42.99 L528.37,44.01 L527.83,45.67 L529.24,44.64 L530.65,45.67 L530.11,44.01 L531.52,42.99 L529.78,42.99ZM537.07,42.93 L536.53,44.59 L534.79,44.59 L536.20,45.61 L535.66,47.27 L537.07,46.24 L538.48,47.27 L537.94,45.61 L539.35,44.59 L537.61,44.59ZM544.90,43.03 L544.36,44.69 L542.62,44.69 L544.03,45.71 L543.49,47.37 L544.90,46.34 L546.31,47.37 L545.77,45.71 L547.18,44.69 L545.44,44.69ZM552.73,37.33 L552.19,38.99 L550.45,38.99 L551.86,40.01 L551.32,41.67 L552.73,40.64 L554.14,41.67 L553.60,40.01 L555.01,38.99 L553.27,38.99ZM560.56,39.23 L560.02,40.89 L558.28,40.89 L559.69,41.91 L559.15,43.57 L560.56,42.54 L561.97,43.57 L561.43,41.91 L562.84,40.89 L561.10,40.89ZM568.39,44.43 L567.85,46.09 L566.11,46.09 L567.52,47.11 L566.98,48.77 L568.39,47.74 L569.80,48.77 L569.26,47.11 L570.67,46.09 L568.93,46.09ZM576.22,43.03 L575.68,44.69 L573.94,44.69 L575.35,45.71 L574.81,47.37 L576.22,46.34 L577.63,47.37 L577.09,45.71 L578.50,44.69 L576.76,44.69ZM584.05,46.23 L583.51,47.89 L581.77,47.89 L583.18,48.91 L582.64,50.57 L584.05,49.54 L585.46,50.57 L584.92,48.91 L586.33,47.89 L584.59,47.89ZM591.88,44.93 L591.34,46.59 L589.60,46.59 L591.01,47.61 L590.47,49.27 L591.88,48.24 L593.29,49.27 L592.75,47.61 L594.16,46.59 L592.42,46.59ZM599.71,40.03 L599.17,41.69 L597.43,41.69 L598.84,42.71 L598.30,44.37 L599.71,43.34 L601.12,44.37 L600.58,42.71 L601.99,41.69 L600.25,41.69ZM607.54,38.73 L607.00,40.39 L605.26,40.39 L606.67,41.41 L606.13,43.07 L607.54,42.04 L608.95,43.07 L608.41,41.41 L609.82,40.39 L608.08,40.39ZM615.37,46.43 L614.83,48.09 L613.09,48.09 L614.50,49.11 L613.96,50.77 L615.37,49.74 L616.78,50.77 L616.24,49.11 L617.65,48.09 L615.91,48.09ZM623.20,46.03 L622.66,47.69 L620.92,47.69 L622.33,48.71 L621.79,50.37 L623.20,49.34 L624.61,50.37 L624.07,48.71 L625.48,47.69 L623.74,47.69ZM631.03,41.73 L630.49,43.39 L628.75,43.39 L630.16,44.41 L629.62,46.07 L631.03,45.04 L632.44,46.07 L631.90,44.41 L633.31,43.39 L631.57,43.39ZM638.86,44.93 L638.32,46.59 L636.58,46.59 L637.99,47.61 L637.45,49.27 L638.86,48.24 L640.27,49.27 L639.73,47.61 L641.14,46.59 L639.40,46.59ZM646.69,45.43 L646.15,47.09 L644.41,47.09 L645.82,48.11 L645.28,49.77 L646.69,48.74 L648.10,49.77 L647.56,48.11 L648.97,47.09 L647.23,47.09ZM654.52,45.43 L653.98,47.09 L652.24,47.09 L653.65,48.11 L653.11,49.77 L654.52,48.74 L655.93,49.77 L655.39,48.11 L656.80,47.09 L655.06,47.09ZM662.35,45.43 L661.81,47.09 L660.07,47.09 L661.48,48.11 L660.94,49.77 L662.35,48.74 L663.76,49.77 L663.22,48.11 L664.63,47.09 L662.89,47.09ZM670.18,46.03 L669.64,47.69 L667.90,47.69 L669.31,48.71 L668.77,50.37 L670.18,49.34 L671.59,50.37 L671.05,48.71 L672.46,47.69 L670.72,47.69ZM678.01,45.43 L677.47,47.09 L675.73,47.09 L677.14,48.11 L676.60,49.77 L678.01,48.74 L679.42,49.77 L678.88,48.11 L680.29,47.09 L678.55,47.09ZM685.84,49.23 L685.30,50.89 L683.56,50.89 L684.97,51.91 L684.43,53.57 L685.84,52.54 L687.25,53.57 L686.71,51.91 L688.12,50.89 L686.38,50.89ZM693.67,51.93 L693.13,53.59 L691.39,53.59 L692.80,54.61 L692.26,56.27 L693.67,55.24 L695.08,56.27 L694.54,54.61 L695.95,53.59 L694.21,53.59Z" fill="#ff0000" stroke="#ff0000" stroke-width="1.15" stroke-linejoin="round"/>
<polyline points="575.60,40.20 685.90,63.10" fill="none" stroke="#00bfbf" stroke-width="1.6" stroke-linejoin="round"/>
<polyline points="575.60,44.30 685.90,48.20" fill="none" stroke="#bf00bf" stroke-width="1.6" stroke-linejoin="round"/>
</g>
<rect x="388.20" y="4.50" width="305.70" height="66.90" fill="none" stroke="#555555" stroke-width="1.1"/>
<path d="M388.20,71.40v3.0M422.14,71.40v3.0M456.08,71.40v3.0M490.02,71.40v3.0M523.96,71.40v3.0M557.90,71.40v3.0M591.84,71.40v3.0M625.78,71.40v3.0M659.72,71.40v3.0M693.66,71.40v3.0" stroke="#555555" stroke-width="1.0"/>
<path d="M388.20,56.50h-3.0M388.20,30.50h-3.0M388.20,4.50h-3.0" stroke="#555555" stroke-width="1.0"/>
<text x="388.20" y="83.80" font-size="9.3" fill="#262626" stroke="#262626" stroke-width="0.12" text-anchor="middle" >0</text>
<text x="422.14" y="83.80" font-size="9.3" fill="#262626" stroke="#262626" stroke-width="0.12" text-anchor="middle" >2</text>
<text x="456.08" y="83.80" font-size="9.3" fill="#262626" stroke="#262626" stroke-width="0.12" text-anchor="middle" >4</text>
<text x="490.02" y="83.80" font-size="9.3" fill="#262626" stroke="#262626" stroke-width="0.12" text-anchor="middle" >6</text>
<text x="523.96" y="83.80" font-size="9.3" fill="#262626" stroke="#262626" stroke-width="0.12" text-anchor="middle" >8</text>
<text x="557.90" y="83.80" font-size="9.3" fill="#262626" stroke="#262626" stroke-width="0.12" text-anchor="middle" >10</text>
<text x="591.84" y="83.80" font-size="9.3" fill="#262626" stroke="#262626" stroke-width="0.12" text-anchor="middle" >12</text>
<text x="625.78" y="83.80" font-size="9.3" fill="#262626" stroke="#262626" stroke-width="0.12" text-anchor="middle" >14</text>
<text x="659.72" y="83.80" font-size="9.3" fill="#262626" stroke="#262626" stroke-width="0.12" text-anchor="middle" >16</text>
<text x="693.66" y="83.80" font-size="9.3" fill="#262626" stroke="#262626" stroke-width="0.12" text-anchor="middle" >18</text>
<text x="381.20" y="59.80" font-size="9.3" fill="#262626" stroke="#262626" stroke-width="0.12" text-anchor="end" >15.0</text>
<text x="381.20" y="33.90" font-size="9.3" fill="#262626" stroke="#262626" stroke-width="0.12" text-anchor="end" >17.5</text>
<text x="381.20" y="7.90" font-size="9.3" fill="#262626" stroke="#262626" stroke-width="0.12" text-anchor="end" >20.0</text>
<text x="357.90" y="38.00" font-size="9.3" fill="#262626" stroke="#262626" stroke-width="0.12" text-anchor="middle" textLength="40.00" lengthAdjust="spacing" transform="rotate(-90 357.90 38.00)" >Log Dens</text>
<text x="540.60" y="95.90" font-size="9.3" fill="#262626" stroke="#262626" stroke-width="0.12" text-anchor="middle" textLength="30.40" lengthAdjust="spacing" >R [kpc]</text>
<rect x="596.30" y="9.00" width="93.00" height="28.30" rx="1.5" fill="#ffffff" fill-opacity="0.8" stroke="#dddddd" stroke-width="0.8"/>
<path d="M599.4,15.3H618" stroke="#00bfbf" stroke-width="1.4"/>
<path d="M599.4,28.4H618" stroke="#bf00bf" stroke-width="1.4"/>
<text x="623.80" y="18.50" font-size="9.3" fill="#262626" stroke="#262626" stroke-width="0.12" text-anchor="start" textLength="59.70" lengthAdjust="spacing" >hr_disk= 2.95</text>
<text x="623.80" y="31.50" font-size="9.3" fill="#262626" stroke="#262626" stroke-width="0.12" text-anchor="start" textLength="61.70" lengthAdjust="spacing" >hr_arm=15.84</text>
<text x="401.80" y="50.90" font-size="9.3" fill="#ff0000" stroke="#ff0000" stroke-width="0.12" text-anchor="start" textLength="31.10" lengthAdjust="spacing" ><tspan font-style="italic">σ</tspan>=0.04</text>
<text x="401.80" y="61.50" font-size="9.3" fill="#0000ff" stroke="#0000ff" stroke-width="0.12" text-anchor="start" textLength="30.90" lengthAdjust="spacing" ><tspan font-style="italic">σ</tspan>=0.01</text>
<clipPath id="cMR"><rect x="388.2" y="84.8" width="305.7" height="67.10000000000001"/></clipPath>
<g clip-path="url(#cMR)">
<ellipse cx="402.30" cy="102.00" rx="1.75" ry="1.75" fill="#1f77b4"/>
<ellipse cx="415.60" cy="95.40" rx="1.75" ry="1.75" fill="#1f77b4"/>
<ellipse cx="415.60" cy="107.50" rx="1.75" ry="1.75" fill="#1f77b4"/>
<ellipse cx="429.90" cy="97.30" rx="1.75" ry="1.75" fill="#1f77b4"/>
<ellipse cx="429.90" cy="113.00" rx="1.75" ry="1.75" fill="#1f77b4"/>
<ellipse cx="443.40" cy="94.40" rx="1.75" ry="1.75" fill="#1f77b4"/>
<ellipse cx="443.40" cy="106.90" rx="1.75" ry="1.75" fill="#1f77b4"/>
<ellipse cx="457.70" cy="87.90" rx="1.75" ry="1.75" fill="#1f77b4"/>
<ellipse cx="471.20" cy="90.90" rx="1.75" ry="1.75" fill="#1f77b4"/>
<ellipse cx="485.30" cy="95.80" rx="1.75" ry="1.75" fill="#1f77b4"/>
<ellipse cx="499.00" cy="103.60" rx="1.75" ry="1.75" fill="#1f77b4"/>
<ellipse cx="499.00" cy="126.00" rx="1.75" ry="1.75" fill="#1f77b4"/>
<ellipse cx="526.80" cy="117.40" rx="1.75" ry="1.75" fill="#1f77b4"/>
<ellipse cx="541.00" cy="123.50" rx="1.75" ry="1.75" fill="#1f77b4"/>
<ellipse cx="541.00" cy="132.30" rx="1.75" ry="1.75" fill="#1f77b4"/>
<ellipse cx="568.70" cy="133.00" rx="1.75" ry="1.75" fill="#1f77b4"/>
<ellipse cx="568.70" cy="135.90" rx="1.75" ry="1.75" fill="#1f77b4"/>
<ellipse cx="582.80" cy="132.80" rx="1.75" ry="1.75" fill="#1f77b4"/>
<ellipse cx="582.80" cy="139.10" rx="1.75" ry="1.75" fill="#1f77b4"/>
<ellipse cx="610.80" cy="138.50" rx="1.75" ry="1.75" fill="#1f77b4"/>
<ellipse cx="610.80" cy="144.70" rx="1.75" ry="1.75" fill="#1f77b4"/>
<ellipse cx="624.40" cy="143.70" rx="1.75" ry="1.75" fill="#1f77b4"/>
<polyline points="401.50,96.40 415.60,96.50 429.90,97.70 443.40,99.70 457.70,102.60 470.00,105.30 485.00,108.30 499.00,111.80 512.90,115.80 526.90,120.00 541.00,124.10 555.00,128.00 568.60,131.50 583.00,134.70 596.90,137.40 610.90,139.80 624.60,141.90 638.50,143.80 652.30,145.50 666.00,147.00 679.90,148.30" fill="none" stroke="#00bfbf" stroke-width="1.6" stroke-linejoin="round"/>
</g>
<rect x="388.20" y="84.80" width="305.70" height="67.10" fill="none" stroke="#555555" stroke-width="1.1"/>
<path d="M401.90,151.90v3.0M441.54,151.90v3.0M481.18,151.90v3.0M520.82,151.90v3.0M560.46,151.90v3.0M600.10,151.90v3.0M639.74,151.90v3.0M679.38,151.90v3.0" stroke="#555555" stroke-width="1.0"/>
<path d="M388.20,129.50h-3.0M388.20,101.50h-3.0" stroke="#555555" stroke-width="1.0"/>
<text x="401.90" y="164.30" font-size="9.3" fill="#262626" stroke="#262626" stroke-width="0.12" text-anchor="middle" >0.0</text>
<text x="441.54" y="164.30" font-size="9.3" fill="#262626" stroke="#262626" stroke-width="0.12" text-anchor="middle" >0.1</text>
<text x="481.18" y="164.30" font-size="9.3" fill="#262626" stroke="#262626" stroke-width="0.12" text-anchor="middle" >0.2</text>
<text x="520.82" y="164.30" font-size="9.3" fill="#262626" stroke="#262626" stroke-width="0.12" text-anchor="middle" >0.3</text>
<text x="560.46" y="164.30" font-size="9.3" fill="#262626" stroke="#262626" stroke-width="0.12" text-anchor="middle" >0.4</text>
<text x="600.10" y="164.30" font-size="9.3" fill="#262626" stroke="#262626" stroke-width="0.12" text-anchor="middle" >0.5</text>
<text x="639.74" y="164.30" font-size="9.3" fill="#262626" stroke="#262626" stroke-width="0.12" text-anchor="middle" >0.6</text>
<text x="679.38" y="164.30" font-size="9.3" fill="#262626" stroke="#262626" stroke-width="0.12" text-anchor="middle" >0.7</text>
<text x="381.40" y="132.90" font-size="9.3" fill="#262626" stroke="#262626" stroke-width="0.12" text-anchor="end" >0.5</text>
<text x="381.40" y="105.10" font-size="9.3" fill="#262626" stroke="#262626" stroke-width="0.12" text-anchor="end" >1.0</text>
<text x="363.90" y="116.70" font-size="9.3" fill="#262626" stroke="#262626" stroke-width="0.12" text-anchor="middle" textLength="36.40" lengthAdjust="spacing" transform="rotate(-90 363.90 116.70)" >Dens/D0</text>
<text x="540.60" y="176.10" font-size="9.3" fill="#262626" stroke="#262626" stroke-width="0.12" text-anchor="middle" textLength="35.60" lengthAdjust="spacing" >Zh [Kpc]</text>
<rect x="620.30" y="89.40" width="68.70" height="14.90" rx="1.5" fill="#ffffff" fill-opacity="0.8" stroke="#dddddd" stroke-width="0.8"/>
<path d="M622.9,96.2H641.1" stroke="#00bfbf" stroke-width="1.4"/>
<text x="647.50" y="99.40" font-size="9.3" fill="#262626" stroke="#262626" stroke-width="0.12" text-anchor="start" textLength="38.30" lengthAdjust="spacing" >hz= 0.42</text>
<text x="402.80" y="128.70" font-size="9.3" fill="#262626" stroke="#262626" stroke-width="0.12" text-anchor="start" textLength="30.80" lengthAdjust="spacing" ><tspan font-style="italic">σ</tspan>=0.58</text>
<clipPath id="cBR"><rect x="388.2" y="165.1" width="305.7" height="67.1"/></clipPath>
<g clip-path="url(#cBR)">
<path d="M401.90,165.80 L399.30,170.40 L404.50,170.40ZM413.90,190.70 L411.30,195.30 L416.50,195.30ZM413.90,197.70 L411.30,202.30 L416.50,202.30ZM426.20,176.40 L423.60,181.00 L428.80,181.00ZM438.20,198.80 L435.60,203.40 L440.80,203.40ZM438.20,209.20 L435.60,213.80 L440.80,213.80ZM450.40,193.50 L447.80,198.10 L453.00,198.10ZM450.40,214.30 L447.80,218.90 L453.00,218.90ZM462.40,181.50 L459.80,186.10 L465.00,186.10ZM462.40,200.50 L459.80,205.10 L465.00,205.10ZM474.30,190.70 L471.70,195.30 L476.90,195.30ZM474.30,209.30 L471.70,213.90 L476.90,213.90ZM486.50,211.70 L483.90,216.30 L489.10,216.30ZM498.50,182.70 L495.90,187.30 L501.10,187.30ZM498.50,211.90 L495.90,216.50 L501.10,216.50ZM523.30,186.30 L520.70,190.90 L525.90,190.90ZM523.30,218.90 L520.70,223.50 L525.90,223.50ZM534.60,188.70 L532.00,193.30 L537.20,193.30ZM547.00,201.60 L544.40,206.20 L549.60,206.20ZM559.10,212.30 L556.50,216.90 L561.70,216.90ZM618.90,223.20 L616.30,227.80 L621.50,227.80ZM667.40,225.40 L664.80,230.00 L670.00,230.00ZM679.90,224.60 L677.30,229.20 L682.50,229.20Z" fill="#808000" stroke="#808000" stroke-width="0.7" stroke-linejoin="round"/>
<polyline points="401.00,194.30 413.60,194.40 430.70,195.00 450.00,196.00 466.40,197.50 480.40,198.80 497.20,201.10 514.30,203.70 531.50,206.30 548.60,208.90 565.80,211.90 582.90,214.80 600.00,217.30 621.40,220.80 652.90,225.60 679.60,229.40" fill="none" stroke="#128c12" stroke-width="1.5" stroke-linejoin="round"/>
</g>
<rect x="388.20" y="165.10" width="305.70" height="67.10" fill="none" stroke="#555555" stroke-width="1.1"/>
<path d="M401.90,232.20v3.0M456.94,232.20v3.0M511.98,232.20v3.0M567.02,232.20v3.0M622.06,232.20v3.0M677.10,232.20v3.0" stroke="#555555" stroke-width="1.0"/>
<path d="M388.20,232.50h-3.0M388.20,198.50h-3.0" stroke="#555555" stroke-width="1.0"/>
<text x="401.90" y="245.30" font-size="9.3" fill="#262626" stroke="#262626" stroke-width="0.12" text-anchor="middle" >0</text>
<text x="456.94" y="245.30" font-size="9.3" fill="#262626" stroke="#262626" stroke-width="0.12" text-anchor="middle" >2</text>
<text x="511.98" y="245.30" font-size="9.3" fill="#262626" stroke="#262626" stroke-width="0.12" text-anchor="middle" >4</text>
<text x="567.02" y="245.30" font-size="9.3" fill="#262626" stroke="#262626" stroke-width="0.12" text-anchor="middle" >6</text>
<text x="622.06" y="245.30" font-size="9.3" fill="#262626" stroke="#262626" stroke-width="0.12" text-anchor="middle" >8</text>
<text x="677.10" y="245.30" font-size="9.3" fill="#262626" stroke="#262626" stroke-width="0.12" text-anchor="middle" >10</text>
<text x="381.20" y="235.50" font-size="9.3" fill="#262626" stroke="#262626" stroke-width="0.12" text-anchor="end" >0</text>
<text x="381.20" y="201.70" font-size="9.3" fill="#262626" stroke="#262626" stroke-width="0.12" text-anchor="end" >2</text>
<text x="372.60" y="199.60" font-size="9.3" fill="#262626" stroke="#262626" stroke-width="0.12" text-anchor="middle" textLength="35.90" lengthAdjust="spacing" transform="rotate(-90 372.60 199.60)" >Dens/D0</text>
<text x="540.60" y="256.50" font-size="9.3" fill="#262626" stroke="#262626" stroke-width="0.12" text-anchor="middle" textLength="30.40" lengthAdjust="spacing" >R [kpc]</text>
<rect x="615.10" y="169.40" width="73.90" height="15.80" rx="1.5" fill="#ffffff" fill-opacity="0.8" stroke="#dddddd" stroke-width="0.8"/>
<path d="M618,176.5H636.3" stroke="#008000" stroke-width="1.4"/>
<text x="642.80" y="179.70" font-size="9.3" fill="#262626" stroke="#262626" stroke-width="0.12" text-anchor="start" textLength="43.00" lengthAdjust="spacing" >Rth= 9.77</text>
<text x="403.10" y="222.10" font-size="9.3" fill="#262626" stroke="#262626" stroke-width="0.12" text-anchor="start" textLength="30.00" lengthAdjust="spacing" ><tspan font-style="italic">σ</tspan>=6.62</text>
</svg>
</body></html>
